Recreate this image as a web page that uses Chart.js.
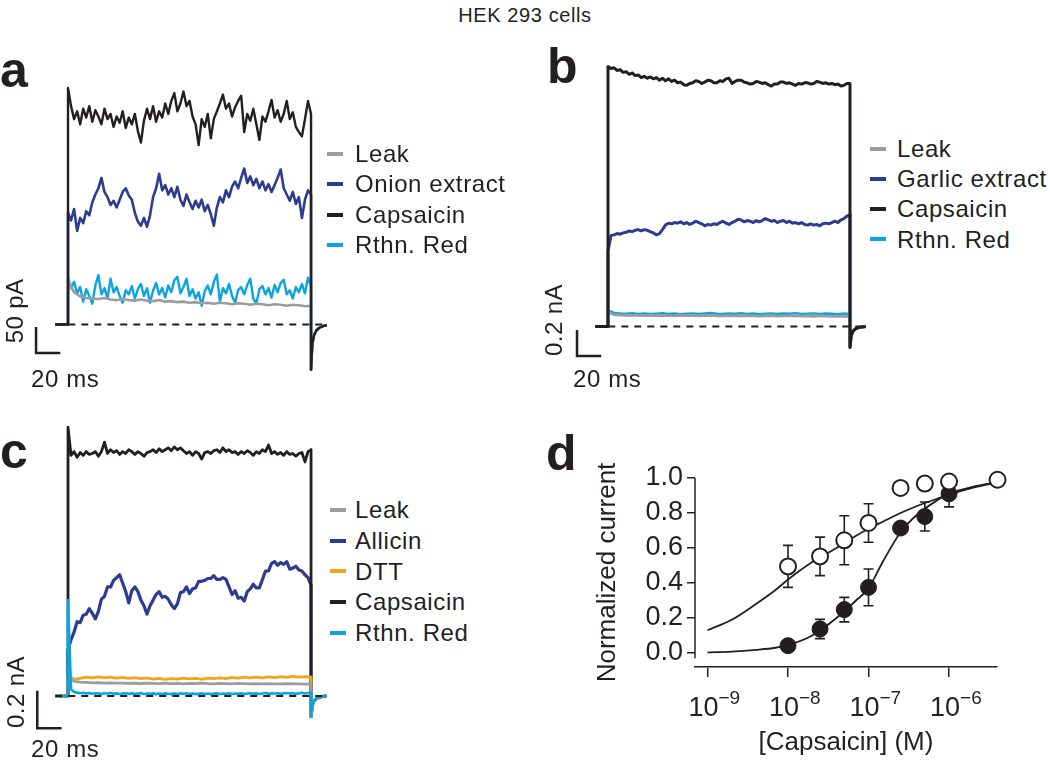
<!DOCTYPE html>
<html>
<head>
<meta charset="utf-8">
<script src="https://cdn.jsdelivr.net/npm/chart.js@4.4.0/dist/chart.umd.min.js"></script>
<style>
  body { margin: 0; background: #fff; width: 1050px; height: 760px; position: relative; overflow: hidden;
         font-family: "Liberation Sans", Arial, sans-serif; color: #231f20; }
  canvas { position: absolute; }
  .txt { position: absolute; font-size: 24px; line-height: 24px; white-space: nowrap; letter-spacing: 0.6px; }
  .panel { position: absolute; font-size: 50px; line-height: 50px; font-weight: bold; }
  .rot { position: absolute; font-size: 24px; line-height: 24px; white-space: nowrap; letter-spacing: 0.4px;
         transform: translate(-50%, -50%) rotate(-90deg); }
  .sw { position: absolute; width: 16px; height: 4px; }
</style>
</head>
<body>
<canvas id="cA" width="330" height="335" style="left:0;top:50px"></canvas>
<canvas id="cB" width="310" height="335" style="left:560px;top:50px"></canvas>
<canvas id="cC" width="330" height="345" style="left:0;top:415px"></canvas>
<canvas id="cD" width="510" height="340" style="left:540px;top:420px"></canvas>

<div class="txt" style="left:0;width:1050px;text-align:center;top:3px;font-size:20px;line-height:24px">HEK 293 cells</div>
<div class="panel" style="left:0;top:45px">a</div>
<div class="panel" style="left:547px;top:41px">b</div>
<div class="panel" style="left:0;top:426px">c</div>
<div class="panel" style="left:546px;top:428px">d</div>

<div class="rot" style="left:15px;top:311px">50 pA</div>
<div class="txt" style="left:31px;top:367px">20 ms</div>
<div class="rot" style="left:554px;top:320px">0.2 nA</div>
<div class="txt" style="left:573px;top:367px">20 ms</div>
<div class="rot" style="left:16px;top:692px">0.2 nA</div>
<div class="txt" style="left:31px;top:737px">20 ms</div>

<script>
// ---- colours
const black = "#231f20";
const blue = "#2d3b91";
const gray = "#9b9c9f";
const cyan = "#0aa5e0";
const orange = "#f7a21b";

// ---- time bases (ms from the start of the voltage step)
const tFine = Array.from({ length: 81 }, (_, i) => i * 2.5);
const tCoarse = Array.from({ length: 41 }, (_, i) => i * 5);
const preTimes = [-10.5, 0];
const tailTimes = [200, 201, 202.5, 204.5, 207, 210, 213];
const dashTimes = [-10.5, 212];

// ---- panel a (pA)
const blackA = [455,420,395,410,385,415,398,420,390,412, 400,385,415,395,405,380,400,388,410,378,
  398,385,405,372,350,392,415,395,420,390, 410,398,425,405,430,445,410,425,448,420,
  430,400,385,345,395,380,405,358,395,410, 425,442,415,425,400,418,430,440,370,405,
  392,415,385,355,400,390,410,432,398,412, 390,405,430,395,408,380,370,362,395,430, 405];
const blueA = [215,200,222,180,205,195,218,210,235,250, 262,282,255,245,230,238,225,240,255,262,
  248,240,215,198,190,205,188,210,245,262, 290,258,268,250,262,245,265,240,228,250,
  235,222,238,225,240,218,230,212,190,225, 245,235,258,245,265,275,262,282,300,272,
  285,268,280,262,275,258,270,255,268,282, 298,262,250,238,255,232,245,205,240,258, 250];
const cyanA = [90,70,82,60,72,44,68,55,40,75, 95,58,70,50,88,62,72,55,42,66,
  58,74,50,68,78,55,70,42,65,80, 58,70,52,75,62,85,92,60,72,88,
  55,68,50,62,36,64,75,58,82,96, 44,70,60,78,55,42,66,72,58,76,
  88,50,40,68,74,58,70,52,76,62, 80,86,58,66,50,72,62,78,60,90, 74];
const grayA = [82,62,54,51,50,49,51,48,47,49, 47,46,48,46,45,47,44,45,43,44,
  42,43,41,42,40,42,41,39,41,40, 38,40,39,37,39,38,36,38,37,35, 36];
const tailA = [-87, -38, -20, -11, -6, -3, -1];
const legendA = ["Leak", "Onion extract", "Capsaicin", "Rthn. Red"];
const legendColorsA = [gray, blue, black, cyan];

// ---- panel b (nA)
const blackB = [2.00,1.985,1.99,1.97,1.975,1.955,1.96,1.94,1.95,1.93,
  1.935,1.915,1.925,1.91,1.92,1.905,1.915,1.895,1.91,1.89,
  1.905,1.885,1.895,1.875,1.88,1.86,1.855,1.87,1.875,1.89,
  1.885,1.87,1.88,1.895,1.89,1.875,1.875,1.89,1.885,1.905,
  1.91,1.87,1.885,1.895,1.895,1.88,1.875,1.865,1.87,1.885,
  1.88,1.87,1.875,1.86,1.85,1.865,1.865,1.88,1.88,1.87,
  1.875,1.865,1.855,1.87,1.865,1.875,1.875,1.865,1.87,1.885,
  1.88,1.87,1.875,1.865,1.87,1.86,1.865,1.85,1.855,1.87, 1.87];
const blueB = [0.58,0.70,0.705,0.715,0.71,0.72,0.725,0.735,0.73,0.74,
  0.745,0.735,0.745,0.74,0.73,0.72,0.705,0.715,0.745,0.78,
  0.795,0.79,0.80,0.795,0.805,0.79,0.80,0.785,0.795,0.81,
  0.80,0.79,0.775,0.785,0.78,0.79,0.785,0.80,0.81,0.795,
  0.785,0.80,0.81,0.825,0.82,0.805,0.815,0.81,0.80,0.815,
  0.805,0.815,0.83,0.82,0.81,0.815,0.80,0.81,0.815,0.80,
  0.81,0.795,0.80,0.79,0.80,0.785,0.78,0.79,0.78,0.785,
  0.775,0.79,0.795,0.79,0.80,0.81,0.80,0.82,0.83,0.85, 0.86];
const cyanB = [0.125,0.105,0.100,0.098,0.102,0.097,0.100,0.096,0.099,0.103,
  0.097,0.100,0.095,0.098,0.101,0.097,0.100,0.104,0.098,0.096,
  0.100,0.098,0.102,0.097,0.100,0.095,0.099,0.101,0.097,0.100,
  0.098,0.103,0.097,0.099,0.101,0.096,0.100,0.098,0.095,0.100, 0.097];
const grayB = [0.110,0.092,0.088,0.086,0.087,0.085,0.084,0.086,0.083,0.085,
  0.084,0.082,0.085,0.083,0.084,0.082,0.083,0.085,0.082,0.081,
  0.083,0.082,0.084,0.081,0.082,0.080,0.082,0.083,0.080,0.082,
  0.081,0.083,0.080,0.081,0.079,0.081,0.080,0.078,0.080,0.079, 0.077];
const tailB = [-0.16, -0.07, -0.035, -0.018, -0.008, -0.003, 0];
const legendB = ["Leak", "Garlic extract", "Capsaicin", "Rthn. Red"];
const legendColorsB = [gray, blue, black, cyan];

// ---- panel c (nA)
const blackC = [1.43,1.28,1.30,1.27,1.295,1.28,1.30,1.285,1.29,1.30,
  1.275,1.30,1.35,1.29,1.31,1.295,1.305,1.285,1.30,1.29,
  1.31,1.30,1.285,1.30,1.29,1.275,1.295,1.30,1.31,1.295,
  1.315,1.30,1.31,1.32,1.305,1.325,1.31,1.32,1.305,1.29,
  1.30,1.28,1.30,1.29,1.26,1.295,1.30,1.29,1.305,1.31,
  1.295,1.32,1.30,1.31,1.295,1.30,1.285,1.30,1.29,1.305,
  1.295,1.28,1.30,1.29,1.31,1.30,1.335,1.29,1.30,1.285,
  1.295,1.28,1.30,1.285,1.29,1.275,1.29,1.295,1.245,1.30, 1.31];
const blueC = [0.245,0.30,0.34,0.395,0.39,0.43,0.435,0.465,0.44,0.41,
  0.45,0.515,0.53,0.58,0.58,0.615,0.63,0.645,0.60,0.555,
  0.495,0.56,0.58,0.555,0.51,0.48,0.435,0.48,0.51,0.54,
  0.555,0.525,0.53,0.515,0.485,0.465,0.49,0.55,0.555,0.58,
  0.545,0.57,0.575,0.61,0.61,0.615,0.625,0.625,0.64,0.62,
  0.62,0.63,0.62,0.58,0.54,0.56,0.52,0.525,0.505,0.555,
  0.57,0.595,0.575,0.575,0.62,0.665,0.665,0.705,0.715,0.695,
  0.71,0.70,0.715,0.675,0.68,0.69,0.67,0.665,0.645,0.63, 0.59];
const orangeC = [0.115,0.088,0.094,0.100,0.096,0.102,0.097,0.101,0.095,0.099,
  0.094,0.098,0.092,0.096,0.090,0.094,0.089,0.093,0.090,0.095,
  0.091,0.094,0.089,0.095,0.092,0.097,0.093,0.099,0.095,0.100,
  0.096,0.101,0.097,0.102,0.098,0.103,0.099,0.104,0.100,0.103, 0.101];
const grayC = [0.095,0.078,0.074,0.072,0.070,0.071,0.069,0.070,0.068,0.069,
  0.067,0.068,0.066,0.068,0.067,0.066,0.068,0.066,0.067,0.065,
  0.067,0.066,0.068,0.066,0.065,0.067,0.066,0.065,0.067,0.066,
  0.065,0.066,0.064,0.066,0.065,0.064,0.066,0.064,0.065,0.063, 0.064];
const cyanC = [0.51,0.035,0.022,0.018,0.015,0.017,0.013,0.016,0.012,0.015,
  0.014,0.011,0.015,0.013,0.016,0.012,0.014,0.011,0.013,0.015,
  0.012,0.014,0.010,0.013,0.015,0.011,0.013,0.012,0.014,0.010,
  0.013,0.011,0.014,0.012,0.010,0.013,0.011,0.014,0.012,0.015,
  0.011,0.013,0.010,0.012,0.014,0.011,0.013,0.010,0.012,0.014,
  0.011,0.013,0.012,0.015,0.011,0.013,0.012,0.014,0.011,0.013,
  0.015,0.012,0.014,0.011,0.013,0.016,0.012,0.014,0.013,0.015,
  0.012,0.014,0.016,0.013,0.015,0.012,0.014,0.017,0.013,0.016, 0.018];
const tailC = [-0.11, -0.05, -0.025, -0.012, -0.006, -0.002, 0];
const legendC = ["Leak", "Allicin", "DTT", "Capsaicin", "Rthn. Red"];
const legendColorsC = [gray, blue, orange, black, cyan];

// ---- panel d (dose response)
const openConc = [1e-8, 2.5e-8, 5e-8, 1e-7, 2.5e-7, 5e-7, 1e-6, 4e-6];
const openMean = [0.495, 0.552, 0.644, 0.743, 0.943, 0.968, 0.98, 0.99];
const openErr = [0.12, 0.11, 0.14, 0.11, 0, 0, 0, 0];
const filledConc = [1e-8, 2.5e-8, 5e-8, 1e-7, 2.5e-7, 5e-7, 1e-6];
const filledMean = [0.042, 0.137, 0.248, 0.375, 0.714, 0.78, 0.91];
const filledErr = [0, 0.055, 0.07, 0.105, 0, 0.083, 0.075];
const fitConc = [1e-9, 2e-9, 4e-9, 7e-9, 1e-8, 2e-8, 4e-8, 7e-8, 1e-7, 1.5e-7, 2.5e-7, 4e-7, 7e-7, 1e-6, 2e-6, 4e-6];
const fitOpen = [0.13, 0.19, 0.28, 0.36, 0.42, 0.52, 0.60, 0.67, 0.71, 0.75, 0.80, 0.84, 0.88, 0.905, 0.945, 0.975];
const fitFilled = [0.003, 0.008, 0.018, 0.03, 0.045, 0.10, 0.20, 0.30, 0.37, 0.52, 0.69, 0.79, 0.87, 0.91, 0.95, 0.975];
const xTickValues = [1e-9, 1e-8, 1e-7, 1e-6];
const xTickExps = ["\u22129", "\u22128", "\u22127", "\u22126"];
const yTickValues = [0, 0.2, 0.4, 0.6, 0.8, 1.0];

Chart.defaults.font.family = '"Liberation Sans", Arial, sans-serif';
Chart.defaults.color = black;

// pre-step baseline, the step itself, then the tail after the step
function trace(values, times, tail) {
    const pts = preTimes.map((t) => ({ x: t, y: 0 }));
    values.forEach((v, i) => pts.push({ x: times[i], y: v }));
    tailTimes.forEach((t, i) => pts.push({ x: t, y: tail[i] }));
    return pts;
}

function line(data, color, width, extra) {
    return Object.assign({ data, borderColor: color, borderWidth: width, pointRadius: 0, fill: false }, extra || {});
}

const dashed = () => line(dashTimes.map((t) => ({ x: t, y: 0 })), black, 1.8, { borderDash: [7, 6] });

// L shaped scale bar, drawn in data units
const scaleBarPlugin = {
    id: "scaleBar",
    afterDatasetsDraw(chart, args, o) {
        if (!o || o.t === undefined) return;
        const { x, y } = chart.scales;
        const ctx = chart.ctx;
        const px0 = x.getPixelForValue(o.t);
        const px1 = x.getPixelForValue(o.t + o.dt);
        const py0 = y.getPixelForValue(o.y);
        const py1 = y.getPixelForValue(o.y - o.dy);
        ctx.save();
        ctx.strokeStyle = black;
        ctx.lineWidth = 2.5;
        ctx.beginPath();
        ctx.moveTo(px0, py0);
        ctx.lineTo(px0, py1);
        ctx.lineTo(px1, py1);
        ctx.stroke();
        ctx.restore();
    },
};

function tracePanel(id, xMin, xMax, yMin, yMax, datasets, bar) {
    return new Chart(document.getElementById(id), {
        type: "line",
        data: { datasets },
        options: {
            responsive: false,
            animation: false,
            layout: { padding: 0 },
            scales: {
                x: { type: "linear", min: xMin, max: xMax, display: false },
                y: { type: "linear", min: yMin, max: yMax, display: false },
            },
            plugins: { legend: { display: false }, tooltip: { enabled: false }, scaleBar: bar },
            elements: { line: { tension: 0, borderJoinStyle: "round" } },
        },
        plugins: [scaleBarPlugin],
    });
}

// panel a: 1.215 px per ms, 0.52 px per pA
tracePanel("cA", -55.97, 215.6, -116.3, 527.9, [
    dashed(),
    line(trace(blackA, tFine, tailA), black, 2.4),
    line(trace(grayA, tCoarse, tailA), gray, 2.6),
    line(trace(cyanA, tFine, tailA), cyan, 2.4),
    line(trace(blueA, tFine, tailA), blue, 2.6),
], { t: -26.3, y: -5, dt: 20, dy: 50 });

// panel b: 1.21 px per ms, 130 px per nA
tracePanel("cB", -39.67, 216.53, -0.45, 2.127, [
    dashed(),
    line(trace(blackB, tFine, tailB), black, 3),
    line(trace(grayB, tCoarse, tailB), gray, 2.8),
    line(trace(cyanB, tCoarse, tailB), cyan, 2.4),
    line(trace(blueB, tFine, tailB), blue, 3),
], { t: -25.6, y: -0.027, dt: 20, dy: 0.2 });

// panel c: 1.215 px per ms, 188 px per nA
tracePanel("cC", -55.97, 215.6, -0.3404, 1.4947, [
    dashed(),
    line(trace(cyanC, tFine, tailC), cyan, 2.6),
    line(trace(grayC, tCoarse, tailC), gray, 2.8),
    line(trace(orangeC, tCoarse, tailC), orange, 2.8),
    line(trace(blackC, tFine, tailC), black, 2.8),
    line(trace(blueC, tFine, tailC), blue, 3.2),
], { t: -25.3, y: 0.028, dt: 20, dy: 0.2 });

// legends
function legend(labels, colors, swLeft, textLeft, firstY, step) {
    labels.forEach((label, i) => {
        const cy = firstY + i * step;
        const sw = document.createElement("div");
        sw.className = "sw";
        sw.style.left = swLeft + "px";
        sw.style.top = cy - 2 + "px";
        sw.style.background = colors[i];
        document.body.appendChild(sw);
        const tx = document.createElement("div");
        tx.className = "txt";
        tx.style.left = textLeft + "px";
        tx.style.top = cy - 11.7 + "px";
        tx.textContent = label;
        document.body.appendChild(tx);
    });
}
legend(legendA, legendColorsA, 327, 355, 153.5, 30.5);
legend(legendB, legendColorsB, 870, 897, 148.5, 30.3);
legend(legendC, legendColorsC, 330, 355, 510, 30.7);

// ---- panel d
const errorBarPlugin = {
    id: "errorBars",
    beforeDatasetsDraw(chart) {
        const { x, y } = chart.scales;
        const ctx = chart.ctx;
        ctx.save();
        ctx.strokeStyle = black;
        ctx.lineWidth = 1.6;
        chart.data.datasets.forEach((ds) => {
            if (!ds.errors) return;
            ds.data.forEach((p, j) => {
                const e = ds.errors[j];
                if (!e) return;
                const px = x.getPixelForValue(p.x);
                const hi = y.getPixelForValue(p.y + e);
                const lo = y.getPixelForValue(p.y - e);
                ctx.beginPath();
                ctx.moveTo(px, hi);
                ctx.lineTo(px, lo);
                ctx.moveTo(px - 5, hi);
                ctx.lineTo(px + 5, hi);
                ctx.moveTo(px - 5, lo);
                ctx.lineTo(px + 5, lo);
                ctx.stroke();
            });
        });
        ctx.restore();
    },
};

const axisDecorPlugin = {
    id: "axisDecor",
    afterDraw(chart) {
        const { x, y } = chart.scales;
        const ctx = chart.ctx;
        ctx.save();
        // detached y axis line
        ctx.strokeStyle = black;
        ctx.lineWidth = 1.5;
        ctx.beginPath();
        ctx.moveTo(chart.chartArea.left, y.getPixelForValue(1.0));
        ctx.lineTo(chart.chartArea.left, y.getPixelForValue(-0.03));
        ctx.stroke();
        // power-of-ten tick labels
        ctx.fillStyle = black;
        ctx.textBaseline = "alphabetic";
        const base = chart.chartArea.bottom + 49;
        xTickValues.forEach((v, i) => {
            const px = x.getPixelForValue(v);
            ctx.font = '27px "Liberation Sans", Arial, sans-serif';
            ctx.textAlign = "right";
            ctx.fillText("10", px + 11, base);
            ctx.font = '19px "Liberation Sans", Arial, sans-serif';
            ctx.textAlign = "left";
            ctx.fillText(xTickExps[i], px + 11, base - 12);
        });
        ctx.restore();
    },
};

new Chart(document.getElementById("cD"), {
    type: "scatter",
    data: {
        datasets: [
            {
                data: openConc.map((c, i) => ({ x: c, y: openMean[i] })),
                errors: openErr,
                pointRadius: 8,
                pointBackgroundColor: "#fff",
                pointBorderColor: black,
                pointBorderWidth: 2,
                clip: false,
                order: 0,
            },
            {
                data: filledConc.map((c, i) => ({ x: c, y: filledMean[i] })),
                errors: filledErr,
                pointRadius: 8,
                pointBackgroundColor: black,
                pointBorderColor: black,
                pointBorderWidth: 1,
                clip: false,
                order: 1,
            },
            {
                type: "line",
                data: fitConc.map((c, i) => ({ x: c, y: fitOpen[i] })),
                borderColor: black,
                borderWidth: 1.8,
                pointRadius: 0,
                cubicInterpolationMode: "monotone",
                order: 2,
            },
            {
                type: "line",
                data: fitConc.map((c, i) => ({ x: c, y: fitFilled[i] })),
                borderColor: black,
                borderWidth: 1.8,
                pointRadius: 0,
                cubicInterpolationMode: "monotone",
                order: 3,
            },
        ],
    },
    options: {
        responsive: false,
        animation: false,
        layout: { padding: { left: 0, right: 53, top: 58, bottom: 0 } },
        scales: {
            x: {
                type: "logarithmic",
                min: 7.1e-10,
                max: 3.94e-6,
                afterBuildTicks: (s) => { s.ticks = xTickValues.map((v) => ({ value: v })); },
                afterFit: (s) => { s.height = 93; },
                ticks: { display: false },
                grid: { drawOnChartArea: false, drawTicks: true, tickLength: 10, color: black, lineWidth: 1.5 },
                border: { display: true, color: black, width: 1.5 },
                title: { display: true, text: "[Capsaicin] (M)", font: { size: 26 }, color: black, padding: { top: 0, bottom: 2 } },
            },
            y: {
                type: "linear",
                min: -0.08,
                max: 1.0,
                afterBuildTicks: (s) => { s.ticks = yTickValues.map((v) => ({ value: v })); },
                afterFit: (s) => { s.width = 155; },
                ticks: { font: { size: 27 }, color: black, padding: 4, callback: (v) => Number(v).toFixed(1) },
                grid: { drawOnChartArea: false, drawTicks: true, tickLength: 8, color: black, lineWidth: 1.5 },
                border: { display: false },
                title: { display: true, text: "Normalized current", font: { size: 26 }, color: black, padding: { top: 52 } },
            },
        },
        plugins: { legend: { display: false }, tooltip: { enabled: false } },
    },
    plugins: [errorBarPlugin, axisDecorPlugin],
});
</script>
</body>
</html>
